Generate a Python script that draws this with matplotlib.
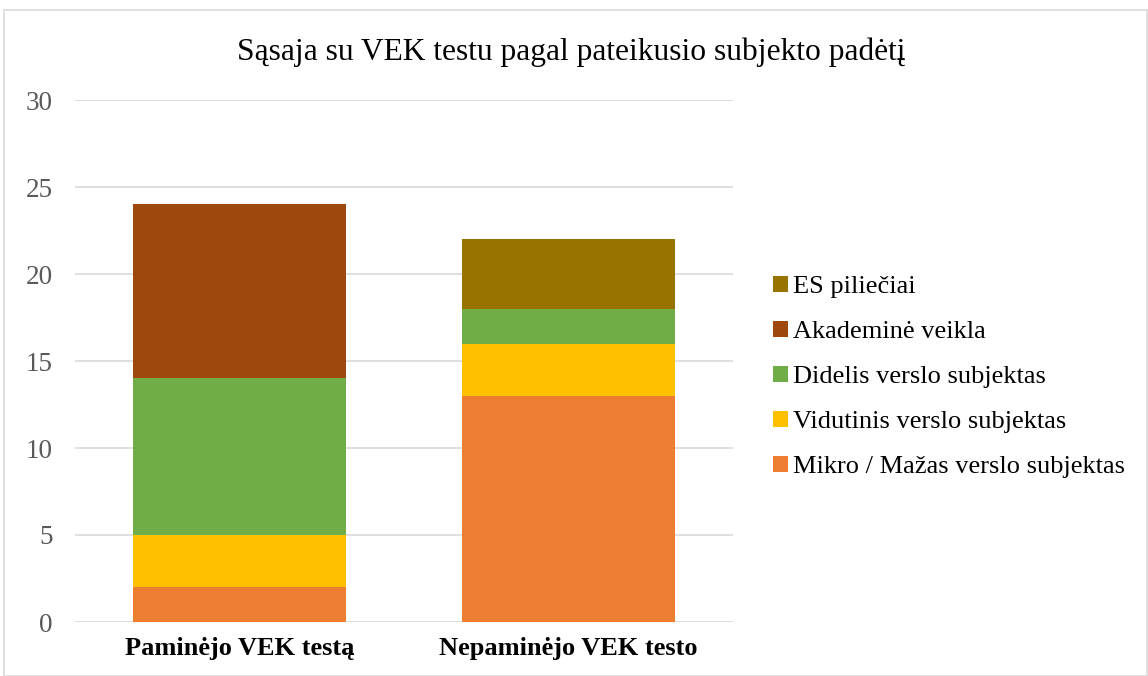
import numpy as np
import matplotlib.pyplot as plt
from matplotlib.patches import Rectangle

plt.rcParams['font.family'] = ['Liberation Serif', 'DejaVu Serif']

categories = ["Paminėjo VEK testą", "Nepaminėjo VEK testo"]
series_names = ["Mikro / Mažas verslo subjektas", "Vidutinis verslo subjektas",
                "Didelis verslo subjektas", "Akademinė veikla", "ES piliečiai"]
mikro = [2, 13]
vidutinis = [3, 3]
didelis = [9, 2]
akademine = [10, 0]
es = [0, 4]
colors = ["#ED7D31", "#FFC000", "#70AD47", "#9E480E", "#997300"]

fig = plt.figure(figsize=(11.48, 6.76), dpi=100)
fig.patches.append(Rectangle((4 / 1148, 0), 1 - 5 / 1148, 1 - 10 / 676, transform=fig.transFigure,
                             fill=False, edgecolor="#D9D9D9", linewidth=1.2))
ax = fig.add_axes([75 / 1148, 1 - 622 / 676, (733 - 75) / 1148, (622 - 100) / 676])

x = np.arange(len(categories))
bottom = np.zeros(len(categories))
for vals, name, c in zip([mikro, vidutinis, didelis, akademine, es], series_names, colors):
    ax.bar(x, vals, 0.65, bottom=bottom, color=c, label=name, zorder=3)
    bottom += np.array(vals)

ax.set_xlim(-0.5, 1.5)
ax.set_ylim(0, 30)
ax.set_yticks(range(0, 31, 5))
ax.yaxis.grid(True, color="#D9D9D9", linewidth=1.2, zorder=0)
for s in ax.spines.values():
    s.set_visible(False)
ax.tick_params(axis='y', length=0, labelsize=19.5, labelcolor="#595959", pad=16)
ax.tick_params(axis='x', length=0, pad=11)
ax.set_xticks(x)
ax.set_xticklabels(categories, fontsize=19, fontweight='bold')

fig.text(0.498, 1 - 60 / 676, "Sąsaja su VEK testu pagal pateikusio subjekto padėtį",
         ha='center', va='baseline', fontsize=22.7)

handles, labels = ax.get_legend_handles_labels()
fig.legend(handles[::-1], labels[::-1], loc='center left', bbox_to_anchor=(773 / 1148, 1 - 377 / 676),
           frameon=False, fontsize=19, handlelength=0.57, handleheight=0.57, borderpad=0,
           borderaxespad=0, handletextpad=0.19, labelspacing=0.86)

plt.savefig("out.png", dpi=100)
